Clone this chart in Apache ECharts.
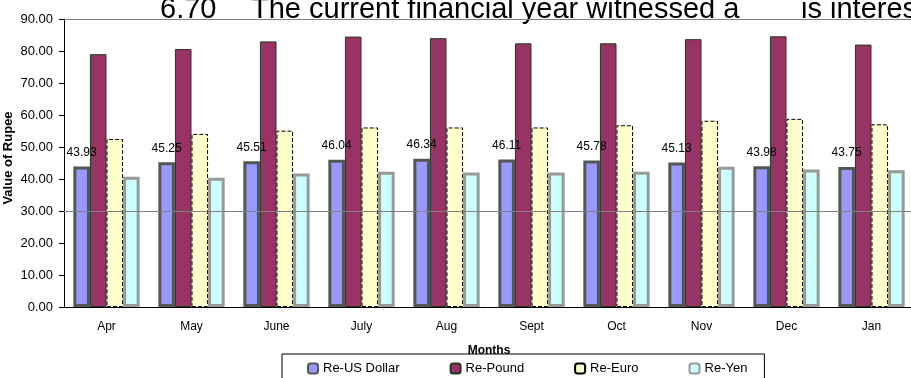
<!DOCTYPE html>
<html><head><meta charset="utf-8">
<script src="https://cdn.jsdelivr.net/npm/echarts@6/dist/echarts.min.js"></script>
<style>html,body{margin:0;padding:0;background:#fff}#c{width:911px;height:378px}</style>
</head><body><div id="c"></div>
<script>
const months = ['Apr','May','June','July','Aug','Sept','Oct','Nov','Dec','Jan'];
const usDollar = [43.93,45.25,45.51,46.04,46.34,46.11,45.78,45.13,43.98,43.75];
const pound = [79.0,80.6,83.0,84.5,84.0,82.4,82.4,83.7,84.6,82.0];
const euro = [52.5,54.1,55.1,56.1,56.1,56.1,56.8,58.2,58.8,57.1];
const yen = [40.7,40.4,41.7,42.3,42.0,42.0,42.3,43.8,43.0,42.7];
const seriesNames = ['Re-US Dollar','Re-Pound','Re-Euro','Re-Yen'];
const refLines = [30, 90];
const yMin = 0, yMax = 90, yStep = 10;

const font = 'Arial, "Liberation Sans", sans-serif';
const chart = echarts.init(document.getElementById('c'), null, {renderer:'canvas'});
chart.setOption({
  animation:false,
  backgroundColor:'#fff',
  textStyle:{fontFamily:font},
  graphic:[
    {type:'text', left:160, top:-5, style:{text:'6.70', font:'29px '+font, fill:'#000'}},
    {type:'text', left:251, top:-5, style:{text:'The current financial year witnessed a', font:'29px '+font, fill:'#000'}},
    {type:'text', left:801, top:-5, style:{text:'is interes', font:'29px '+font, fill:'#000'}}
  ],
  grid:{left:64, top:19, width:850, height:288, containLabel:false, outerBoundsMode:'none'},
  legend:{
    data:seriesNames, left:282, top:354, itemGap:50, itemWidth:10, itemHeight:10,
    borderColor:'#000', borderWidth:1, padding:[8,17,10,25],
    textStyle:{fontSize:13, color:'#000', fontFamily:font}
  },
  xAxis:{
    type:'category', data:months,
    name:'Months', nameLocation:'middle', nameGap:38, nameMoveOverlap:false,
    nameTextStyle:{fontWeight:'bold', fontSize:12, color:'#000', fontFamily:font},
    axisLine:{lineStyle:{color:'#000'}},
    axisTick:{length:4, lineStyle:{color:'#000'}},
    axisLabel:{fontSize:12, color:'#000', margin:14, fontFamily:font}
  },
  yAxis:{
    type:'value', min:yMin, max:yMax, interval:yStep,
    name:'Value of Rupee', nameLocation:'middle', nameGap:49, nameMoveOverlap:false,
    nameTextStyle:{fontWeight:'bold', fontSize:13, color:'#000', fontFamily:font, padding:[0,0,0,10]},
    axisLine:{show:true, lineStyle:{color:'#000'}},
    axisTick:{show:true, length:5, lineStyle:{color:'#000'}},
    axisLabel:{fontSize:13, color:'#000', margin:11, fontFamily:font, formatter:v=>v.toFixed(2)},
    splitLine:{show:false}
  },
  series:[
    {type:'line', data:[], z:0, silent:true,
     markLine:{silent:true, symbol:'none', label:{show:false},
       lineStyle:{color:'#808080', width:1, type:'solid'},
       data:refLines.map(v=>({yAxis:v}))}},
    {name:seriesNames[0], type:'bar', data:usDollar, barGap:'0%', barCategoryGap:'22%',
     itemStyle:{color:'#9999FF', borderColor:'#555555', borderWidth:3},
     label:{show:true, position:'top', distance:8, color:'#000', fontSize:12, fontFamily:font, formatter:p=>p.value.toFixed(2)}},
    {name:seriesNames[1], type:'bar', data:pound,
     itemStyle:{color:'#993366', borderColor:'#1f3a1f', borderWidth:1}},
    {name:seriesNames[2], type:'bar', data:euro,
     itemStyle:{color:'#FFFFCC', borderColor:'#000', borderWidth:1, borderType:'dashed'}},
    {name:seriesNames[3], type:'bar', data:yen,
     itemStyle:{color:'#CCFFFF', borderColor:'#999999', borderWidth:3}}
  ]
});
</script></body></html>
